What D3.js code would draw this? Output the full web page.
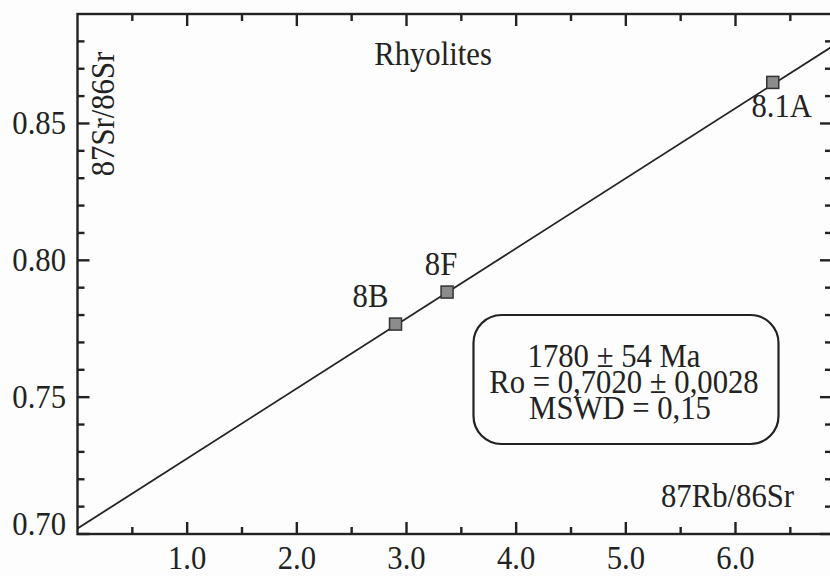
<!DOCTYPE html>
<html>
<head>
<meta charset="utf-8">
<script src="https://cdn.jsdelivr.net/npm/d3@7"></script>
<style>
  html, body { margin: 0; padding: 0; background: #fdfdfd; }
  svg { display: block; }
  text { font-family: "Liberation Serif", "Times New Roman", serif; fill: #222; }
</style>
</head>
<body>
<svg id="chart" width="830" height="576"></svg>
<script>
// ---- data ----
const sampleNames = ["8B", "8F", "8.1A"];
const rbSr = [2.90, 3.37, 6.34];        // 87Rb/86Sr
const srSr = [0.7767, 0.7884, 0.8650];  // 87Sr/86Sr
const isochronX = [0, 6.88];
const isochronY = [0.7020, 0.8781];
const xMajorTicks = [1, 2, 3, 4, 5, 6];
const xTickLabels = ["1.0", "2.0", "3.0", "4.0", "5.0", "6.0"];
const xMinorTicks = [0.5, 1.5, 2.5, 3.5, 4.5, 5.5, 6.5];
const yMajorTicks = [0.70, 0.75, 0.80, 0.85];
const yTickLabels = ["0.70", "0.75", "0.80", "0.85"];
const yMinorTicks = [0.71, 0.72, 0.73, 0.74, 0.76, 0.77, 0.78, 0.79, 0.81, 0.82, 0.83, 0.84, 0.86, 0.87, 0.88];
const resultLines = ["1780 \u00B1 54 Ma", "Ro = 0,7020 \u00B1 0,0028", "MSWD = 0,15"];

// ---- layout ----
const svg = d3.select("#chart");
const L = 77.5, R = 832, T = 14, B = 534;
const x = d3.scaleLinear().domain([0, 6.88]).range([L, R]);
const y = d3.scaleLinear().domain([0.70, 0.89]).range([B, T]);
const ink = "#222";
const FS = 33, SX = 0.93;

function label(txt, px, py, anchor, extra) {
  return svg.append("text")
    .attr("transform", `translate(${px},${py}) ${extra || ""} scale(${SX},1)`)
    .attr("text-anchor", anchor)
    .attr("font-size", FS)
    .text(txt);
}

// frame
svg.append("rect").attr("x", L).attr("y", T).attr("width", R - L).attr("height", B - T)
  .attr("fill", "none").attr("stroke", ink).attr("stroke-width", 2.4);

// ticks (inward)
const MAJ = 12, MIN = 7, TW = 2.4;
const tickG = svg.append("g");
function hTick(v, len) {
  const px = x(v);
  tickG.append("rect").attr("x", px - TW / 2).attr("y", B - len).attr("width", TW).attr("height", len).attr("fill", ink);
  tickG.append("rect").attr("x", px - TW / 2).attr("y", T).attr("width", TW).attr("height", len).attr("fill", ink);
}
function vTick(v, len) {
  const py = y(v);
  tickG.append("rect").attr("x", L).attr("y", py - TW / 2).attr("width", len).attr("height", TW).attr("fill", ink);
  tickG.append("rect").attr("x", R - len).attr("y", py - TW / 2).attr("width", len).attr("height", TW).attr("fill", ink);
}
xMinorTicks.forEach(v => hTick(v, MIN));
xMajorTicks.forEach(v => hTick(v, MAJ));
yMinorTicks.forEach(v => vTick(v, MIN));
yMajorTicks.forEach(v => vTick(v, MAJ));

// tick labels
xMajorTicks.forEach((v, i) => label(xTickLabels[i], x(v), 569, "middle"));
yMajorTicks.forEach((v, i) => label(yTickLabels[i], 66, y(v) + 11 - (i === 0 ? 10 : 0), "end"));

// axis titles
label("87Sr/86Sr", 114, 114, "middle", "rotate(-90)");
label("87Rb/86Sr", 794, 507, "end");
label("Rhyolites", 433, 65, "middle");

// isochron line
svg.append("defs").append("clipPath").attr("id", "clip")
  .append("rect").attr("x", L).attr("y", T).attr("width", R - L).attr("height", B - T);
const linePts = isochronX.map((v, i) => [v, isochronY[i]]);
svg.append("path")
  .attr("clip-path", "url(#clip)")
  .attr("d", d3.line().x(d => x(d[0])).y(d => y(d[1]))(linePts))
  .attr("fill", "none").attr("stroke", ink).attr("stroke-width", 1.8);

// points
const S = 12;
rbSr.forEach((v, i) => {
  svg.append("rect")
    .attr("x", x(v) - S / 2).attr("y", y(srSr[i]) - S / 2)
    .attr("width", S).attr("height", S)
    .attr("fill", "#8c8c8c").attr("stroke", "#333").attr("stroke-width", 1.5);
});

// point labels
const labelOffsets = [[-25, -17], [-6, -17], [9, 35]];
rbSr.forEach((v, i) => {
  label(sampleNames[i], x(v) + labelOffsets[i][0], y(srSr[i]) + labelOffsets[i][1], "middle");
});

// result box
svg.append("rect")
  .attr("x", 473.5).attr("y", 315).attr("width", 305).attr("height", 129)
  .attr("rx", 28).attr("ry", 28)
  .attr("fill", "none").attr("stroke", ink).attr("stroke-width", 2.2);
const boxCenters = [614, 624, 620];
resultLines.forEach((t, i) => label(t, boxCenters[i], 367 + i * 26, "middle"));
</script>
</body>
</html>
